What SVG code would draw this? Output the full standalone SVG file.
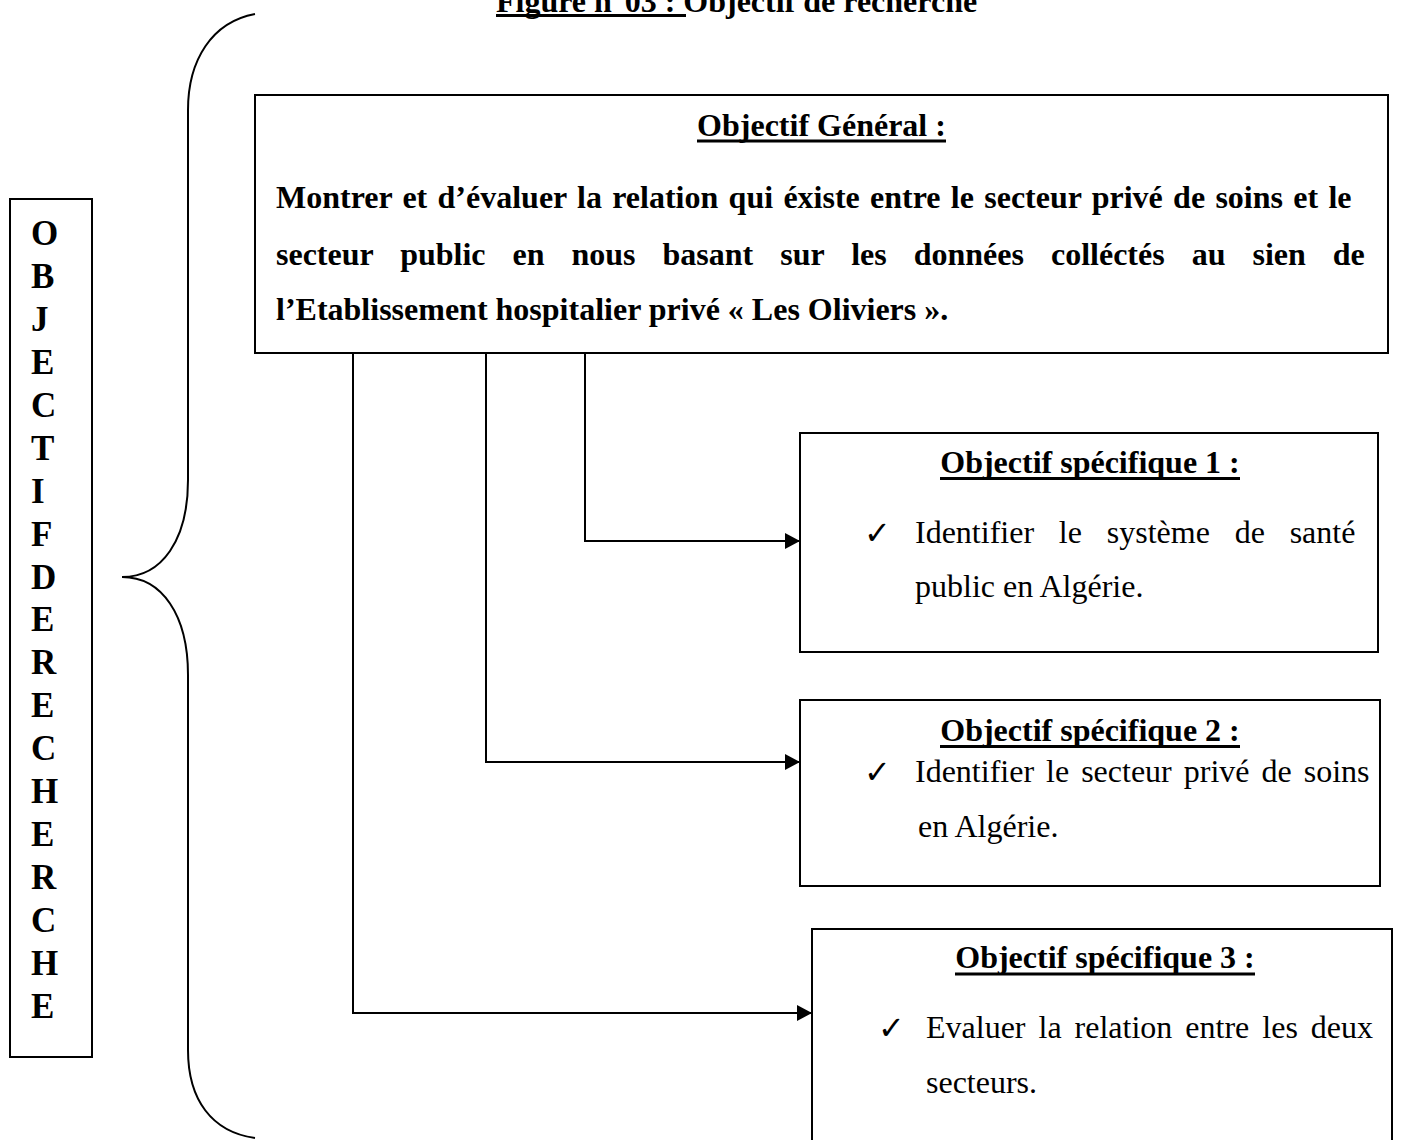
<svg xmlns="http://www.w3.org/2000/svg" width="1402" height="1140" viewBox="0 0 1402 1140">
<style>
.box{fill:#fff;stroke:#000;stroke-width:2}
.ln{fill:none;stroke:#000;stroke-width:2}
.b{font-family:"Liberation Serif","Times New Roman",serif;font-weight:bold;fill:#000}
.r{font-family:"Liberation Serif","Times New Roman",serif;fill:#000}
.chk{font-family:"DejaVu Sans",sans-serif;fill:#000}
.ul{stroke:#000;stroke-width:3}
</style>
<defs>
<marker id="ah" markerUnits="userSpaceOnUse" markerWidth="16" markerHeight="16" refX="15" refY="8" orient="auto">
<path d="M0,0 L15,8 L0,16 Z" fill="#000"/>
</marker>
</defs>
<rect width="1402" height="1140" fill="#fff"/>

<g id="title">
<text class="b" x="496" y="12" font-size="32">Figure n°03 : Objectif de recherche</text>
<line class="ul" x1="496" y1="15.5" x2="686" y2="15.5"/>
</g>

<g id="brace">
<path class="ln" d="M255,14 C212,22 188,60 188,110 L188,480 C188,540 162,577 122,577 C162,577 188,615 188,675 L188,1050 C188,1100 212,1132 255,1138"/>
</g>

<g id="side-label">
<rect class="box" x="10" y="199" width="82" height="858"/>
<g class="b" font-size="35">
<text x="31" y="245">O</text>
<text x="31" y="288">B</text>
<text x="31" y="331">J</text>
<text x="31" y="374">E</text>
<text x="31" y="417">C</text>
<text x="31" y="460">T</text>
<text x="31" y="503">I</text>
<text x="31" y="546">F</text>
<text x="31" y="589">D</text>
<text x="31" y="631">E</text>
<text x="31" y="674">R</text>
<text x="31" y="717">E</text>
<text x="31" y="760">C</text>
<text x="31" y="803">H</text>
<text x="31" y="846">E</text>
<text x="31" y="889">R</text>
<text x="31" y="932">C</text>
<text x="31" y="975">H</text>
<text x="31" y="1018">E</text>
</g>
</g>

<g id="connectors">
<path class="ln" d="M585,353 V541 H800" marker-end="url(#ah)"/>
<path class="ln" d="M486,353 V762 H800" marker-end="url(#ah)"/>
<path class="ln" d="M353,353 V1013 H812" marker-end="url(#ah)"/>
</g>

<g id="objectif-general">
<rect class="box" x="255" y="95" width="1133" height="258"/>
<text class="b" x="821.5" y="136" font-size="32" text-anchor="middle">Objectif Général :</text>
<line class="ul" x1="697" y1="141" x2="946" y2="141"/>
<text class="b" x="276" y="208" font-size="32" word-spacing="2.3">Montrer et d’évaluer la relation qui éxiste entre le secteur privé de soins et le</text>
<text class="b" x="276" y="265" font-size="32" word-spacing="19">secteur public en nous basant sur les données colléctés au sien de</text>
<text class="b" x="276" y="320" font-size="32">l’Etablissement hospitalier privé « Les Oliviers ».</text>
</g>

<g id="objectif-1">
<rect class="box" x="800" y="433" width="578" height="219"/>
<text class="b" x="1090" y="473" font-size="32" text-anchor="middle">Objectif spécifique 1 :</text>
<line class="ul" x1="940" y1="478.5" x2="1240" y2="478.5"/>
<text class="chk" x="864" y="544" font-size="32">✓</text>
<text class="r" x="915" y="543" font-size="32" word-spacing="16.8">Identifier le système de santé</text>
<text class="r" x="915" y="597" font-size="32">public en Algérie.</text>
</g>

<g id="objectif-2">
<rect class="box" x="800" y="700" width="580" height="186"/>
<text class="b" x="1090" y="741" font-size="32" text-anchor="middle">Objectif spécifique 2 :</text>
<line class="ul" x1="940" y1="746.5" x2="1240" y2="746.5"/>
<text class="chk" x="864" y="783" font-size="32">✓</text>
<text class="r" x="915" y="782" font-size="32" word-spacing="4">Identifier le secteur privé de soins</text>
<text class="r" x="918" y="837" font-size="32">en Algérie.</text>
</g>

<g id="objectif-3">
<rect class="box" x="812" y="929" width="580" height="230"/>
<text class="b" x="1105" y="968" font-size="32" text-anchor="middle">Objectif spécifique 3 :</text>
<line class="ul" x1="955" y1="974" x2="1255" y2="974"/>
<text class="chk" x="878" y="1039" font-size="32">✓</text>
<text class="r" x="926" y="1038" font-size="32" word-spacing="5">Evaluer la relation entre les deux</text>
<text class="r" x="926" y="1093" font-size="32">secteurs.</text>
</g>
</svg>
